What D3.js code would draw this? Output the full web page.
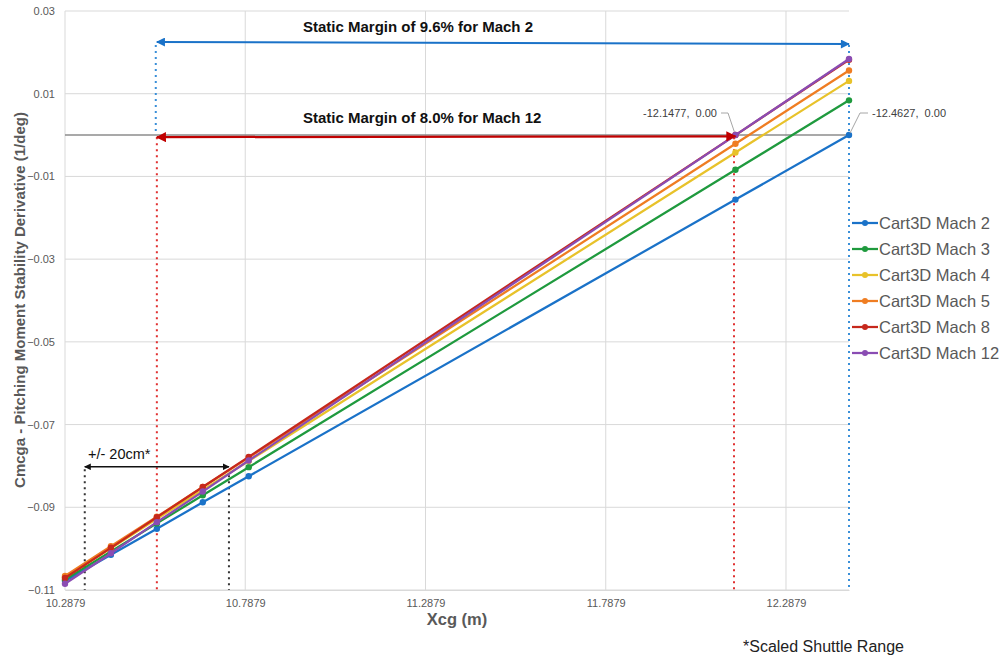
<!DOCTYPE html>
<html>
<head>
<meta charset="utf-8">
<script src="https://cdn.jsdelivr.net/npm/d3@7"></script>
<style>
  body { margin: 0; background: #fff; }
  svg { display: block; font-family: "Liberation Sans", Arial, sans-serif; }
</style>
</head>
<body>
<svg id="chart" width="1003" height="659"></svg>
<script>
// x positions of the Cart3D runs (Xcg, m)
const xcg = [10.2879, 10.4153, 10.5427, 10.6701, 10.7975, 12.1477, 12.4627];

const seriesNames = ['Cart3D Mach 2', 'Cart3D Mach 3', 'Cart3D Mach 4', 'Cart3D Mach 5', 'Cart3D Mach 8', 'Cart3D Mach 12'];
const mach2 = [-0.1078, -0.1015, -0.0952, -0.0888, -0.0825, -0.0156, 0.0000];
const mach3 = [-0.1075, -0.1007, -0.0939, -0.0871, -0.0803, -0.0084, 0.0084];
const mach4 = [-0.1069, -0.0999, -0.0928, -0.0858, -0.0788, -0.0042, 0.0131];
const mach5 = [-0.1066, -0.0994, -0.0923, -0.0851, -0.0780, -0.0021, 0.0156];
const mach8 = [-0.1071, -0.0998, -0.0924, -0.0851, -0.0778, 0.0000, 0.0182];
const mach12 = [-0.1085, -0.1011, -0.0936, -0.0862, -0.0787, 0.0000, 0.0184];
const seriesColors = ['#1a72c8', '#1f9a3e', '#e8c22a', '#ef7d22', '#c6281c', '#8a4cb3'];

const xTicks = [10.2879, 10.7879, 11.2879, 11.7879, 12.2879];
const yTicks = [-0.11, -0.09, -0.07, -0.05, -0.03, -0.01, 0.01, 0.03];

// annotation anchors in data units
const nominalCg = 10.5427;
const rangeCg = [10.3427, 10.7427];
const zeroMach12 = 12.1477;
const zeroMach2 = 12.4627;

const svg = d3.select('#chart');
const x = d3.scaleLinear().domain([10.2879, 12.4627]).range([65, 849]);
const y = d3.scaleLinear().domain([-0.11, 0.03]).range([590, 11]);

// arrow markers
const defs = svg.append('defs');
[['blue', '#1a72c8'], ['red', '#c00000'], ['black', '#111']].forEach(([id, c]) => {
  defs.append('marker').attr('id', `arr-${id}`)
    .attr('viewBox', '0 0 10 10').attr('refX', 9).attr('refY', 5)
    .attr('markerWidth', 5).attr('markerHeight', 4.5).attr('orient', 'auto-start-reverse')
    .attr('markerUnits', 'strokeWidth')
    .append('path').attr('d', 'M0,0L10,5L0,10Z').attr('fill', c);
});

// grid
const grid = svg.append('g').attr('class', 'grid');
grid.selectAll('line.h').data(yTicks).join('line').attr('class', 'h')
  .attr('x1', x.range()[0]).attr('x2', x.range()[1])
  .attr('y1', d => y(d)).attr('y2', d => y(d))
  .attr('stroke', '#d9d9d9').attr('stroke-width', 1);
grid.selectAll('line.v').data(xTicks).join('line').attr('class', 'v')
  .attr('x1', d => x(d)).attr('x2', d => x(d))
  .attr('y1', y.range()[0]).attr('y2', y.range()[1])
  .attr('stroke', '#d9d9d9').attr('stroke-width', 1);

// zero line
svg.append('line')
  .attr('x1', x.range()[0]).attr('x2', x.range()[1])
  .attr('y1', y(0)).attr('y2', y(0))
  .attr('stroke', '#8c8c8c').attr('stroke-width', 1.5);

// axes
const axisX = svg.append('g').attr('transform', `translate(0, ${y(-0.11)})`)
  .call(d3.axisBottom(x).tickValues(xTicks).tickSize(0).tickPadding(9).tickFormat(d3.format('.4f')));
axisX.select('.domain').attr('stroke', '#d9d9d9');
axisX.selectAll('text').attr('fill', '#595959').attr('font-size', 11);

const axisY = svg.append('g').attr('transform', `translate(${x(10.2879)}, 0)`)
  .call(d3.axisLeft(y).tickValues(yTicks).tickSize(0).tickPadding(10).tickFormat(d3.format('.2f')));
axisY.select('.domain').remove();
axisY.selectAll('text').attr('fill', '#595959').attr('font-size', 11);

// dotted guides
const guides = [
  { xv: nominalCg - 0.003, y0: 0.0218, y1: 0.0002, color: '#3a8fd8' },
  { xv: zeroMach2, y0: 0.0218, y1: -0.11, color: '#3a8fd8' },
  { xv: nominalCg, y0: -0.0005, y1: -0.11, color: '#e03030' },
  { xv: zeroMach12 - 0.004, y0: -0.0005, y1: -0.11, color: '#e03030' },
  { xv: rangeCg[0], y0: -0.0808, y1: -0.11, color: '#333' },
  { xv: rangeCg[1], y0: -0.0808, y1: -0.11, color: '#333' },
];
svg.append('g').selectAll('line').data(guides).join('line')
  .attr('x1', d => x(d.xv)).attr('x2', d => x(d.xv))
  .attr('y1', d => y(d.y0)).attr('y2', d => y(d.y1))
  .attr('stroke', d => d.color).attr('stroke-width', 2)
  .attr('stroke-dasharray', '2,4');

// series
const seriesData = [mach2, mach3, mach4, mach5, mach8, mach12];
const line = d3.line().x((d, i) => x(xcg[i])).y(d => y(d));
const series = svg.append('g').selectAll('g').data(seriesData).join('g');
series.append('path')
  .attr('d', d => line(d))
  .attr('fill', 'none')
  .attr('stroke', (d, i) => seriesColors[i])
  .attr('stroke-width', 2.25);
series.each(function (vals, si) {
  d3.select(this).selectAll('circle').data(vals).join('circle')
    .attr('cx', (d, i) => x(xcg[i])).attr('cy', d => y(d)).attr('r', 3.2)
    .attr('fill', seriesColors[si]);
});

// arrows
const arrows = [
  { x1: zeroMach2, y1: 0.0220, x2: nominalCg, y2: 0.0225, color: '#1a72c8', id: 'blue', w: 2 },
  { x1: zeroMach12, y1: -0.0003, x2: nominalCg, y2: -0.0005, color: '#c00000', id: 'red', w: 2.25 },
  { x1: rangeCg[1], y1: -0.0802, x2: rangeCg[0], y2: -0.0802, color: '#111', id: 'black', w: 1.5 },
];
svg.append('g').selectAll('line').data(arrows).join('line')
  .attr('x1', d => x(d.x1)).attr('y1', d => y(d.y1))
  .attr('x2', d => x(d.x2)).attr('y2', d => y(d.y2))
  .attr('stroke', d => d.color).attr('stroke-width', d => d.w)
  .attr('marker-start', d => `url(#arr-${d.id})`)
  .attr('marker-end', d => `url(#arr-${d.id})`);

// annotation texts
svg.append('text').attr('x', 303).attr('y', 32)
  .attr('font-size', 15).attr('font-weight', 'bold').attr('fill', '#111')
  .text('Static Margin of 9.6% for Mach 2');
svg.append('text').attr('x', 303).attr('y', 123)
  .attr('font-size', 15).attr('font-weight', 'bold').attr('fill', '#111')
  .text('Static Margin of 8.0% for Mach 12');
svg.append('text').attr('x', 88).attr('y', 459)
  .attr('font-size', 14.5).attr('fill', '#111')
  .text('+/- 20cm*');

// data labels with leader lines
const lab = svg.append('g').attr('font-size', 11).attr('fill', '#404040');
lab.append('text').attr('x', 717).attr('y', 117).attr('text-anchor', 'end')
  .text('-12.1477,\u00a0 0.00');
lab.append('path')
  .attr('d', `M721,113L728,113L${x(zeroMach12) - 1},${y(0) - 3}`)
  .attr('fill', 'none').attr('stroke', '#a6a6a6').attr('stroke-width', 1);
lab.append('text').attr('x', 872).attr('y', 117)
  .text('-12.4627,\u00a0 0.00');
lab.append('path')
  .attr('d', `M${x(zeroMach2) + 1},${y(0) - 2}L860,113L868,113`)
  .attr('fill', 'none').attr('stroke', '#a6a6a6').attr('stroke-width', 1);

// axis titles
svg.append('text').attr('x', 457).attr('y', 625).attr('text-anchor', 'middle')
  .attr('font-size', 16.5).attr('font-weight', 'bold').attr('fill', '#595959')
  .text('Xcg (m)');
svg.append('text').attr('transform', 'translate(25, 300) rotate(-90)')
  .attr('text-anchor', 'middle')
  .attr('font-size', 15).attr('font-weight', 'bold').attr('fill', '#595959')
  .text('Cmcga - Pitching Moment Stability Derivative (1/deg)');

// legend
const legend = svg.append('g').attr('transform', 'translate(852, 223)');
const item = legend.selectAll('g').data(seriesNames).join('g')
  .attr('transform', (d, i) => `translate(0, ${i * 26})`);
item.append('line').attr('x1', 0).attr('x2', 26).attr('y1', 0).attr('y2', 0)
  .attr('stroke', (d, i) => seriesColors[i]).attr('stroke-width', 2.25);
item.append('circle').attr('cx', 13).attr('cy', 0).attr('r', 3)
  .attr('fill', (d, i) => seriesColors[i]);
item.append('text').attr('x', 27).attr('y', 6)
  .attr('font-size', 16.5).attr('fill', '#595959').text(d => d);

// footnote
svg.append('text').attr('x', 743).attr('y', 652)
  .attr('font-size', 16).attr('fill', '#222')
  .text('*Scaled Shuttle Range');
</script>
</body>
</html>
